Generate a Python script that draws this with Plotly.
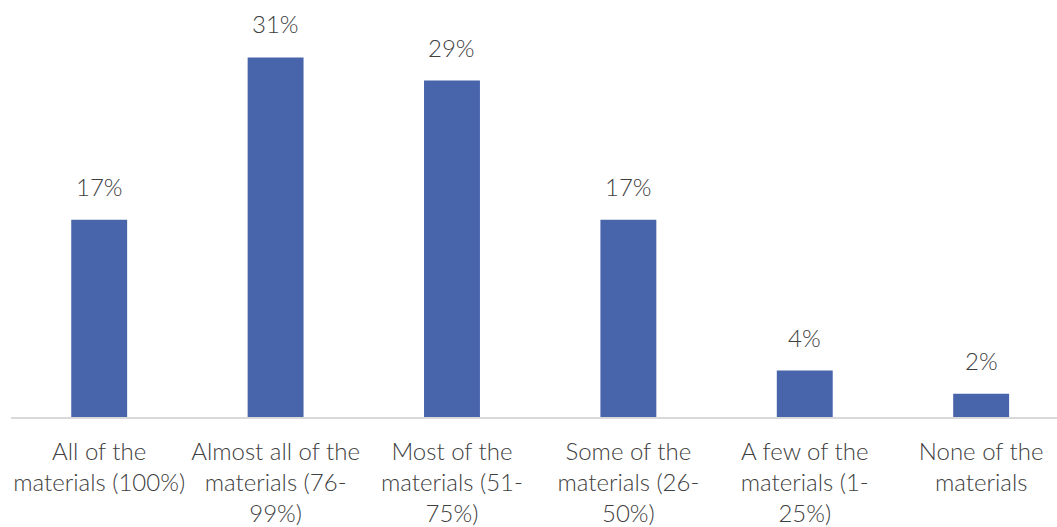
import plotly.graph_objects as go

categories = [
    "All of the<br>materials (100%)",
    "Almost all of the<br>materials (76-<br>99%)",
    "Most of the<br>materials (51-<br>75%)",
    "Some of the<br>materials (26-<br>50%)",
    "A few of the<br>materials (1-<br>25%)",
    "None of the<br>materials",
]
values = [17, 31, 29, 17, 4, 2]
labels = ["17%", "31%", "29%", "17%", "4%", "2%"]

BAR_COLOR = "#4864ab"
TEXT_COLOR = "#404040"
FONT = "'Lato Light', Lato, 'Noto Sans', sans-serif"

x_pos = list(range(len(categories)))

fig = go.Figure(
    go.Bar(
        x=x_pos,
        y=values,
        width=0.317,
        marker=dict(color=BAR_COLOR, line=dict(width=0)),
        hoverinfo="skip",
    )
)

# value labels above each bar
for xi, v, lab in zip(x_pos, values, labels):
    fig.add_annotation(
        x=xi, y=v, text=lab, showarrow=False,
        yanchor="bottom", yshift=17,
        font=dict(family=FONT, size=24, color=TEXT_COLOR),
    )

fig.update_layout(
    width=1057, height=527,
    margin=dict(l=11, r=0, t=11, b=110),
    paper_bgcolor="white", plot_bgcolor="white",
    showlegend=False,
    font=dict(family=FONT, size=24, color=TEXT_COLOR),
    xaxis=dict(
        tickmode="array", tickvals=x_pos, ticktext=categories,
        range=[-0.5, 5.43],
        showgrid=False, zeroline=False,
        showline=True, linecolor="#d9d9d9", linewidth=1.5,
        ticks="", ticklabelstandoff=12,
        tickfont=dict(family=FONT, size=24, color=TEXT_COLOR),
    ),
    yaxis=dict(range=[0, 35], visible=False, showgrid=False, zeroline=False),
)

fig.write_html("out.html")
